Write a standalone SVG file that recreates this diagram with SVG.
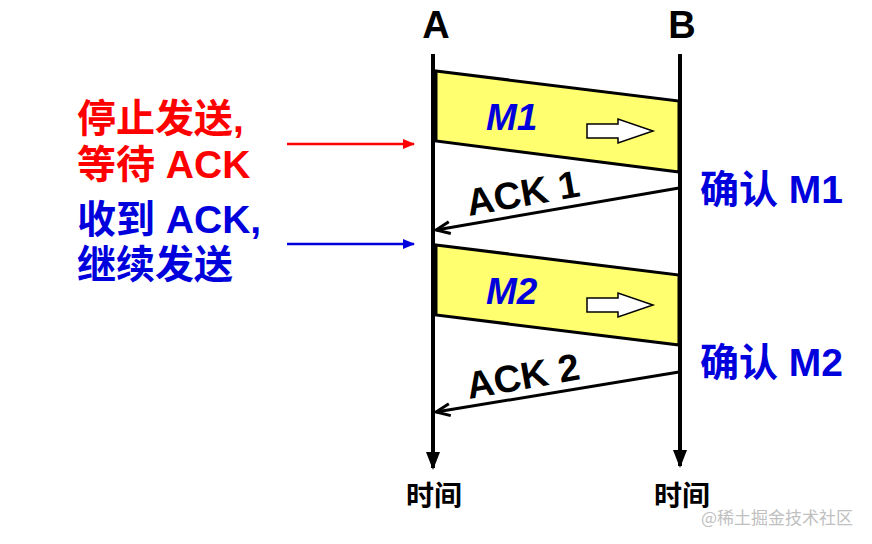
<svg xmlns="http://www.w3.org/2000/svg" width="872" height="544" viewBox="0 0 872 544">
<defs>
<style>
.t{font-family:"Liberation Sans","Noto Sans CJK SC",sans-serif;font-weight:bold}
.blk{fill:#000}
.red{fill:#ff0000}
.blue{fill:#0000dd}
.pkt{fill:#ffff70;stroke:#000;stroke-width:3;stroke-linejoin:miter}
.line{stroke:#000;stroke-width:4;fill:none}
.ack{stroke:#000;stroke-width:3;fill:none}
.hollow{fill:#fff;stroke:#000;stroke-width:1.5}
</style>
<marker id="ah" markerWidth="18" markerHeight="16" refX="16" refY="8" orient="auto" markerUnits="userSpaceOnUse">
<path d="M2,2 L16,8 L2,14" fill="none" stroke="#000" stroke-width="3"/>
</marker>
<marker id="ahr" markerWidth="12" markerHeight="10" refX="11" refY="5" orient="auto" markerUnits="userSpaceOnUse">
<path d="M0,0 L12,5 L0,10 Z" fill="#ff0000"/>
</marker>
<marker id="ahb" markerWidth="12" markerHeight="10" refX="11" refY="5" orient="auto" markerUnits="userSpaceOnUse">
<path d="M0,0 L12,5 L0,10 Z" fill="#0000dd"/>
</marker>
</defs>
<rect width="872" height="544" fill="#fff"/>

<g id="packets">
<g id="m1">
<polygon class="pkt" points="436,71 679,101 679,172 436,141"/>
<text class="t blue" x="486" y="130" font-size="37" font-style="italic">M1</text>
<polygon class="hollow" points="587,124 618,124 618,119 653,131 618,143 618,138 587,138"/>
</g>
<g id="m2">
<polygon class="pkt" points="436,245 679,275 679,345 436,315"/>
<text class="t blue" x="486" y="304" font-size="37" font-style="italic">M2</text>
<polygon class="hollow" points="587,298 618,298 618,293 653,305 618,317 618,312 587,312"/>
</g>
</g>

<g id="timelineA">
<line class="line" x1="433" y1="54" x2="433" y2="468"/>
<polygon class="blk" points="426,452 440,452 433,470"/>
<text class="t blk" x="436" y="38" font-size="38" text-anchor="middle">A</text>
<text class="t blk" x="434" y="506" font-size="28" text-anchor="middle">时间</text>
</g>
<g id="timelineB">
<line class="line" x1="680" y1="54" x2="680" y2="466"/>
<polygon class="blk" points="673,450 687,450 680,468"/>
<text class="t blk" x="682" y="38" font-size="38" text-anchor="middle">B</text>
<text class="t blk" x="682" y="506" font-size="28" text-anchor="middle">时间</text>
</g>

<g id="connectors">
<line class="ack" x1="679" y1="188" x2="436" y2="230" marker-end="url(#ah)"/>
<line class="ack" x1="679" y1="372" x2="436" y2="412" marker-end="url(#ah)"/>
<line x1="287" y1="144" x2="414" y2="144" stroke="#ff0000" stroke-width="2.5" marker-end="url(#ahr)"/>
<line x1="287" y1="244" x2="414" y2="244" stroke="#0000dd" stroke-width="2.5" marker-end="url(#ahb)"/>
</g>

<g id="ack1label">
<text class="t blk" x="0" y="0" font-size="38" transform="translate(469 216) rotate(-10)">ACK 1</text>
</g>
<g id="ack2label">
<text class="t blk" x="0" y="0" font-size="38" transform="translate(469 399) rotate(-10)">ACK 2</text>
</g>

<g id="leftlabels">
<text class="t red" x="77" y="132" font-size="39">停止发送,</text>
<text class="t red" x="77" y="178" font-size="39">等待 ACK</text>
<text class="t blue" x="77" y="233" font-size="39">收到 ACK,</text>
<text class="t blue" x="77" y="278" font-size="39">继续发送</text>
</g>

<g id="rightlabels">
<text class="t blue" x="700" y="203" font-size="39">确认 M1</text>
<text class="t blue" x="700" y="376" font-size="39">确认 M2</text>
</g>

<text x="853" y="524" font-family="'Noto Sans CJK SC',sans-serif" font-size="17" fill="#c0c0c0" text-anchor="end">@稀土掘金技术社区</text>
</svg>
